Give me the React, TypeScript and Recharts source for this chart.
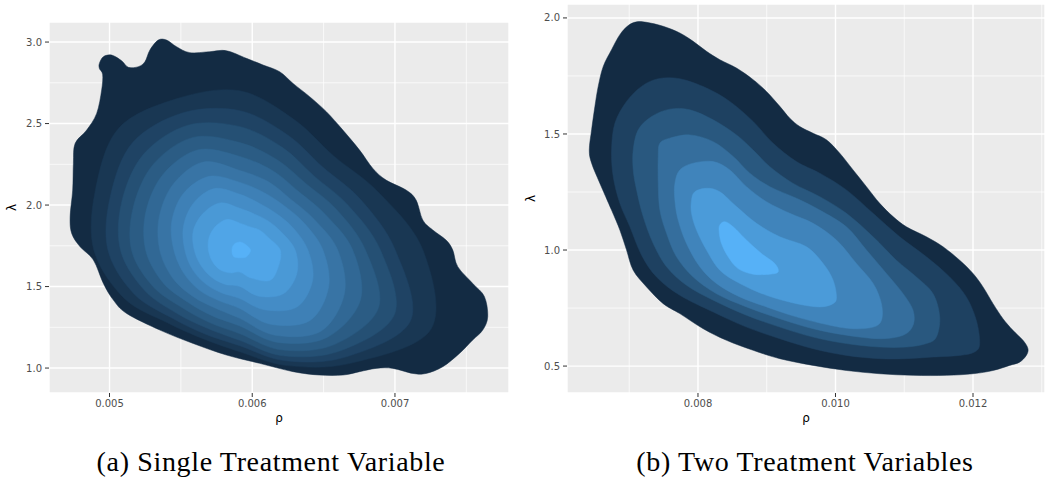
import React from 'react';
import { ScatterChart, Scatter, XAxis, YAxis, CartesianGrid } from 'recharts';

type Pt = [number, number]; // [rho, lambda]

// ---------- (a) Single Treatment Variable : density contour levels (outer -> inner) ----------
const singleLevel0: Pt[] = [
  [4.929e-3, 2.869], [4.957e-3, 2.91], [5.015e-3, 2.92], [5.085e-3, 2.885], [5.132e-3, 2.845], [5.202e-3, 2.849],
  [5.248e-3, 2.879], [5.283e-3, 2.951], [5.341e-3, 3.012], [5.4e-3, 3.012], [5.47e-3, 2.971], [5.563e-3, 2.935],
  [5.703e-3, 2.941], [5.819e-3, 2.947], [5.959e-3, 2.9], [6.076e-3, 2.859], [6.192e-3, 2.818], [6.286e-3, 2.746],
  [6.402e-3, 2.665], [6.519e-3, 2.573], [6.635e-3, 2.46], [6.752e-3, 2.337], [6.845e-3, 2.225], [6.938e-3, 2.153],
  [7.078e-3, 2.092], [7.148e-3, 2.031], [7.195e-3, 1.908], [7.265e-3, 1.847], [7.358e-3, 1.785], [7.405e-3, 1.724],
  [7.44e-3, 1.622], [7.545e-3, 1.519], [7.627e-3, 1.438], [7.65e-3, 1.315], [7.615e-3, 1.233], [7.545e-3, 1.172],
  [7.452e-3, 1.09], [7.335e-3, 1.008], [7.218e-3, 0.967], [7.125e-3, 0.967], [6.985e-3, 0.998], [6.868e-3, 0.998],
  [6.752e-3, 0.978], [6.635e-3, 0.957], [6.472e-3, 0.957], [6.286e-3, 0.978], [6.052e-3, 1.029], [5.819e-3, 1.08],
  [5.586e-3, 1.151], [5.353e-3, 1.233], [5.12e-3, 1.335], [5.027e-3, 1.417], [4.957e-3, 1.519], [4.887e-3, 1.663],
  [4.794e-3, 1.744], [4.735e-3, 1.826], [4.724e-3, 1.928], [4.742e-3, 2.092], [4.747e-3, 2.256], [4.759e-3, 2.378],
  [4.84e-3, 2.46], [4.91e-3, 2.562], [4.945e-3, 2.706], [4.952e-3, 2.8], [4.929e-3, 2.838],
];
const singleLevel1: Pt[] = [
  [7.196e-3, 1.724], [7.252e-3, 1.238], [6.702e-3, 1.032], [6.247e-3, 1.015], [5.913e-3, 1.1], [5.655e-3, 1.18],
  [5.405e-3, 1.278], [5.102e-3, 1.429], [4.89e-3, 1.724], [4.901e-3, 2.092], [5.063e-3, 2.47], [5.473e-3, 2.653],
  [5.913e-3, 2.701], [6.291e-3, 2.526], [6.571e-3, 2.301], [6.886e-3, 2.077],
];
const singleLevel2: Pt[] = [
  [7.002e-3, 1.724], [7.109e-3, 1.29], [6.659e-3, 1.069], [6.233e-3, 1.045], [5.913e-3, 1.137], [5.669e-3, 1.209],
  [5.438e-3, 1.307], [5.172e-3, 1.455], [4.989e-3, 1.724], [5.006e-3, 2.054], [5.162e-3, 2.383], [5.515e-3, 2.566],
  [5.913e-3, 2.579], [6.246e-3, 2.431], [6.494e-3, 2.233], [6.761e-3, 2.032],
];
const singleLevel3: Pt[] = [
  [6.898e-3, 1.724], [6.997e-3, 1.33], [6.617e-3, 1.106], [6.219e-3, 1.075], [5.913e-3, 1.17], [5.686e-3, 1.244],
  [5.471e-3, 1.336], [5.242e-3, 1.48], [5.077e-3, 1.724], [5.087e-3, 2.024], [5.241e-3, 2.314], [5.551e-3, 2.49],
  [5.913e-3, 2.481], [6.21e-3, 2.354], [6.432e-3, 2.179], [6.671e-3, 1.999],
];
const singleLevel4: Pt[] = [
  [6.793e-3, 1.724], [6.885e-3, 1.371], [6.574e-3, 1.144], [6.202e-3, 1.112], [5.913e-3, 1.211], [5.702e-3, 1.279],
  [5.51e-3, 1.37], [5.303e-3, 1.502], [5.154e-3, 1.724], [5.169e-3, 1.995], [5.31e-3, 2.253], [5.586e-3, 2.415],
  [5.913e-3, 2.383], [6.174e-3, 2.278], [6.377e-3, 2.131], [6.592e-3, 1.971],
];
const singleLevel5: Pt[] = [
  [6.704e-3, 1.724], [6.758e-3, 1.417], [6.524e-3, 1.188], [6.181e-3, 1.157], [5.913e-3, 1.258], [5.722e-3, 1.32],
  [5.549e-3, 1.404], [5.372e-3, 1.527], [5.253e-3, 1.724], [5.256e-3, 1.963], [5.379e-3, 2.192], [5.622e-3, 2.339],
  [5.913e-3, 2.298], [6.143e-3, 2.211], [6.323e-3, 2.084], [6.512e-3, 1.942],
];
const singleLevel6: Pt[] = [
  [6.599e-3, 1.724], [6.646e-3, 1.458], [6.481e-3, 1.226], [6.159e-3, 1.202], [5.913e-3, 1.305], [5.744e-3, 1.367],
  [5.587e-3, 1.438], [5.442e-3, 1.553], [5.352e-3, 1.724], [5.349e-3, 1.929], [5.449e-3, 2.131], [5.658e-3, 2.264],
  [5.913e-3, 2.212], [6.111e-3, 2.144], [6.269e-3, 2.036], [6.433e-3, 1.913],
];
const singleLevel7: Pt[] = [
  [6.495e-3, 1.724], [6.535e-3, 1.498], [6.405e-3, 1.292], [6.128e-3, 1.269], [5.913e-3, 1.366], [5.766e-3, 1.414],
  [5.631e-3, 1.477], [5.521e-3, 1.581], [5.451e-3, 1.724], [5.436e-3, 1.897], [5.518e-3, 2.071], [5.699e-3, 2.176],
  [5.913e-3, 2.139], [6.08e-3, 2.077], [6.223e-3, 1.996], [6.365e-3, 1.888],
];
const singleLevel8: Pt[] = [
  [6.39e-3, 1.724], [6.423e-3, 1.539], [6.312e-3, 1.374], [6.085e-3, 1.358], [5.913e-3, 1.427], [5.788e-3, 1.461],
  [5.676e-3, 1.515], [5.582e-3, 1.604], [5.528e-3, 1.724], [5.518e-3, 1.868], [5.587e-3, 2.01], [5.735e-3, 2.101],
  [5.913e-3, 2.066], [6.048e-3, 2.011], [6.168e-3, 1.948], [6.286e-3, 1.86],
];
const singleLevel9: Pt[] = [
  [6.301e-3, 1.724], [6.312e-3, 1.579], [6.218e-3, 1.456], [6.047e-3, 1.441], [5.913e-3, 1.501], [5.813e-3, 1.513],
  [5.72e-3, 1.554], [5.643e-3, 1.626], [5.594e-3, 1.724], [5.587e-3, 1.842], [5.656e-3, 1.949], [5.776e-3, 2.013],
  [5.913e-3, 1.98], [6.017e-3, 1.944], [6.114e-3, 1.901], [6.207e-3, 1.831],
];
const singleLevel10: Pt[] = [
  [6.196e-3, 1.724], [6.184e-3, 1.626], [6.125e-3, 1.538], [5.994e-3, 1.552], [5.913e-3, 1.589], [5.847e-3, 1.584],
  [5.775e-3, 1.603], [5.721e-3, 1.654], [5.693e-3, 1.724], [5.698e-3, 1.802], [5.745e-3, 1.871], [5.824e-3, 1.912],
  [5.913e-3, 1.889], [5.981e-3, 1.867], [6.052e-3, 1.846], [6.116e-3, 1.798],
];
const singleLevel11: Pt[] = [
  [5.988e-3, 1.724], [5.96e-3, 1.683], [5.913e-3, 1.677], [5.869e-3, 1.685], [5.858e-3, 1.724], [5.873e-3, 1.759],
  [5.913e-3, 1.773], [5.952e-3, 1.758],
];

// ---------- (b) Two Treatment Variables : density contour levels (outer -> inner) ----------
const twoLevel0: Pt[] = [
  [7.107e-3, 1.983], [7.252e-3, 1.981], [7.494e-3, 1.964], [7.736e-3, 1.935], [7.93e-3, 1.899], [8.124e-3, 1.856],
  [8.318e-3, 1.82], [8.56e-3, 1.784], [8.802e-3, 1.734], [8.996e-3, 1.683], [9.19e-3, 1.619], [9.335e-3, 1.568],
  [9.481e-3, 1.532], [9.674e-3, 1.503], [9.868e-3, 1.475], [10.062e-3, 1.417], [10.256e-3, 1.345], [10.45e-3, 1.273],
  [10.643e-3, 1.201], [10.837e-3, 1.144], [11.031e-3, 1.1], [11.322e-3, 1.057], [11.564e-3, 1.014], [11.806e-3, 0.956],
  [12.0e-3, 0.899], [12.145e-3, 0.841], [12.291e-3, 0.769], [12.436e-3, 0.704], [12.581e-3, 0.654], [12.727e-3, 0.611],
  [12.799e-3, 0.575], [12.775e-3, 0.546], [12.678e-3, 0.517], [12.533e-3, 0.503], [12.291e-3, 0.481], [12.0e-3, 0.467],
  [11.612e-3, 0.46], [11.128e-3, 0.46], [10.643e-3, 0.467], [10.159e-3, 0.481], [9.674e-3, 0.503], [9.19e-3, 0.532],
  [8.802e-3, 0.568], [8.415e-3, 0.611], [8.076e-3, 0.661], [7.736e-3, 0.726], [7.494e-3, 0.769], [7.252e-3, 0.841],
  [7.058e-3, 0.913], [6.961e-3, 1.0], [6.864e-3, 1.086], [6.743e-3, 1.172], [6.574e-3, 1.287], [6.453e-3, 1.374],
  [6.419e-3, 1.431], [6.453e-3, 1.518], [6.501e-3, 1.619], [6.549e-3, 1.705], [6.622e-3, 1.791], [6.743e-3, 1.863],
  [6.864e-3, 1.928], [6.985e-3, 1.967],
];
const twoLevel1: Pt[] = [
  [7.179e-3, 1.705], [7.422e-3, 1.738], [7.736e-3, 1.738], [8.124e-3, 1.698], [8.463e-3, 1.64], [8.802e-3, 1.554],
  [9.093e-3, 1.46], [9.432e-3, 1.381], [9.771e-3, 1.331], [10.159e-3, 1.259], [10.547e-3, 1.158], [10.934e-3, 1.057],
  [11.322e-3, 0.971], [11.661e-3, 0.884], [11.903e-3, 0.798], [12.048e-3, 0.697], [12.097e-3, 0.597], [12.024e-3, 0.561],
  [11.806e-3, 0.546], [11.419e-3, 0.539], [11.031e-3, 0.532], [10.643e-3, 0.532], [10.159e-3, 0.546], [9.674e-3, 0.575],
  [9.19e-3, 0.618], [8.705e-3, 0.668], [8.221e-3, 0.733], [7.736e-3, 0.805], [7.397e-3, 0.884], [7.179e-3, 0.978],
  [7.01e-3, 1.1], [6.864e-3, 1.201], [6.767e-3, 1.316], [6.743e-3, 1.431], [6.792e-3, 1.547], [6.961e-3, 1.64],
];
const twoLevel2: Pt[] = [
  [7.058e-3, 1.431], [7.131e-3, 1.518], [7.325e-3, 1.575], [7.591e-3, 1.607], [7.882e-3, 1.604], [8.221e-3, 1.561],
  [8.56e-3, 1.496], [8.802e-3, 1.431], [9.045e-3, 1.359], [9.384e-3, 1.287], [9.771e-3, 1.23], [10.159e-3, 1.158],
  [10.547e-3, 1.057], [10.886e-3, 0.956], [11.176e-3, 0.884], [11.419e-3, 0.812], [11.516e-3, 0.712], [11.467e-3, 0.625],
  [11.322e-3, 0.597], [11.031e-3, 0.582], [10.643e-3, 0.582], [10.159e-3, 0.597], [9.674e-3, 0.625], [9.19e-3, 0.668],
  [8.705e-3, 0.719], [8.221e-3, 0.784], [7.833e-3, 0.848], [7.543e-3, 0.928], [7.349e-3, 1.028], [7.203e-3, 1.144],
  [7.107e-3, 1.259], [7.058e-3, 1.345],
];
const twoLevel3: Pt[] = [
  [7.422e-3, 1.403], [7.446e-3, 1.46], [7.591e-3, 1.482], [7.882e-3, 1.496], [8.221e-3, 1.467], [8.512e-3, 1.403],
  [8.754e-3, 1.331], [9.045e-3, 1.273], [9.432e-3, 1.223], [9.771e-3, 1.172], [10.159e-3, 1.1], [10.45e-3, 1.0],
  [10.74e-3, 0.899], [10.983e-3, 0.812], [11.128e-3, 0.74], [11.128e-3, 0.676], [10.983e-3, 0.633], [10.643e-3, 0.618],
  [10.159e-3, 0.633], [9.674e-3, 0.661], [9.19e-3, 0.704], [8.705e-3, 0.755], [8.269e-3, 0.812], [7.93e-3, 0.884],
  [7.688e-3, 0.971], [7.543e-3, 1.072], [7.446e-3, 1.172], [7.422e-3, 1.287],
];
const twoLevel4: Pt[] = [
  [7.664e-3, 1.287], [7.736e-3, 1.345], [7.93e-3, 1.374], [8.221e-3, 1.381], [8.463e-3, 1.345], [8.705e-3, 1.273],
  [8.996e-3, 1.208], [9.335e-3, 1.158], [9.674e-3, 1.115], [10.014e-3, 1.043], [10.304e-3, 0.942], [10.547e-3, 0.856],
  [10.668e-3, 0.769], [10.668e-3, 0.697], [10.547e-3, 0.668], [10.256e-3, 0.661], [9.917e-3, 0.676], [9.432e-3, 0.712],
  [8.996e-3, 0.755], [8.609e-3, 0.798], [8.269e-3, 0.856], [8.027e-3, 0.928], [7.833e-3, 1.028], [7.712e-3, 1.129],
  [7.664e-3, 1.215],
];
const twoLevel5: Pt[] = [
  [7.906e-3, 1.215], [7.954e-3, 1.251], [8.124e-3, 1.266], [8.318e-3, 1.251], [8.56e-3, 1.187], [8.851e-3, 1.115],
  [9.19e-3, 1.057], [9.578e-3, 1.014], [9.82e-3, 0.942], [9.965e-3, 0.87], [10.014e-3, 0.798], [9.965e-3, 0.769],
  [9.771e-3, 0.755], [9.432e-3, 0.769], [8.996e-3, 0.805], [8.609e-3, 0.856], [8.318e-3, 0.913], [8.124e-3, 1.0],
  [7.979e-3, 1.086], [7.906e-3, 1.158],
];
const twoLevel6: Pt[] = [
  [8.318e-3, 1.108], [8.391e-3, 1.122], [8.512e-3, 1.1], [8.705e-3, 1.043], [8.923e-3, 0.985], [9.117e-3, 0.942],
  [9.166e-3, 0.906], [9.045e-3, 0.896], [8.802e-3, 0.896], [8.584e-3, 0.92], [8.439e-3, 0.971], [8.342e-3, 1.028],
  [8.308e-3, 1.079],
];

const singleLevels: Pt[][] = [
  singleLevel0, singleLevel1, singleLevel2, singleLevel3, singleLevel4, singleLevel5,
  singleLevel6, singleLevel7, singleLevel8, singleLevel9, singleLevel10, singleLevel11,
];
const twoLevels: Pt[][] = [twoLevel0, twoLevel1, twoLevel2, twoLevel3, twoLevel4, twoLevel5, twoLevel6];

// ---------- axes ----------
const singleRhoTicks = [0.005, 0.006, 0.007];
const singleRhoMinor = [0.0055, 0.0065, 0.0075];
const singleLamTicks = [1.0, 1.5, 2.0, 2.5, 3.0];
const singleLamMinor = [1.25, 1.75, 2.25, 2.75];
const twoRhoTicks = [0.008, 0.01, 0.012];
const twoRhoMinor = [0.007, 0.009, 0.011, 0.013];
const twoLamTicks = [0.5, 1.0, 1.5, 2.0];
const twoLamMinor = [0.75, 1.25, 1.75];

const captions = ['(a) Single Treatment Variable', '(b) Two Treatment Variables'];

// ---------- style helpers ----------
const LOW = [19, 43, 67];
const HIGH = [86, 177, 247];
function levelColor(i: number, n: number): string {
  const t = n <= 1 ? 0 : i / (n - 1);
  const c = LOW.map((l, k) => Math.round(l + (HIGH[k] - l) * t));
  return `rgb(${c[0]},${c[1]},${c[2]})`;
}

// closed Catmull-Rom curve (passes through every contour vertex)
function closedCatmullRom(context: any) {
  let pts: number[][] = [];
  return {
    areaStart() {},
    areaEnd() {},
    lineStart() {
      pts = [];
    },
    point(x: number, y: number) {
      pts.push([+x, +y]);
    },
    lineEnd() {
      const n = pts.length;
      if (!n) return;
      context.moveTo(pts[0][0], pts[0][1]);
      for (let i = 0; i < n; i++) {
        const p0 = pts[(i - 1 + n) % n];
        const p1 = pts[i];
        const p2 = pts[(i + 1) % n];
        const p3 = pts[(i + 2) % n];
        context.bezierCurveTo(
          p1[0] + (p2[0] - p0[0]) / 6,
          p1[1] + (p2[1] - p0[1]) / 6,
          p2[0] - (p3[0] - p1[0]) / 6,
          p2[1] - (p3[1] - p1[1]) / 6,
          p2[0],
          p2[1]
        );
      }
      context.closePath();
    },
  };
}

const noShape = () => <g />;
const TICK_FONT = { fontFamily: 'DejaVu Sans', fontSize: 10, fill: '#4D4D4D' };
const TITLE_FONT = 'DejaVu Sans';

const yTitle = (dx: number) => (props: any) => {
  const vb = props.viewBox || { x: 0, y: 0, width: 0, height: 0 };
  const cx = vb.x + dx;
  const cy = vb.y + vb.height / 2;
  return (
    <text x={cx} y={cy} transform={`rotate(-90 ${cx} ${cy})`} textAnchor="middle" dominantBaseline="central"
      fontFamily={TITLE_FONT} fontSize={12} fill="#000">λ</text>
  );
};
const xTitle = (dy: number) => (props: any) => {
  const vb = props.viewBox || { x: 0, y: 0, width: 0, height: 0 };
  return (
    <text x={vb.x + vb.width / 2} y={vb.y + dy} textAnchor="middle" dominantBaseline="central"
      fontFamily={TITLE_FONT} fontSize={12} fill="#000">ρ</text>
  );
};

type PanelProps = {
  left: number;
  width: number;
  margin: { top: number; right: number; bottom: number; left: number };
  yAxisWidth: number;
  xDomain: [number, number];
  yDomain: [number, number];
  xTicks: number[];
  xMinor: number[];
  yTicks: number[];
  yMinor: number[];
  levels: Pt[][];
  yTitleDx: number;
};

function Panel(p: PanelProps) {
  const n = p.levels.length;
  return (
    <div style={{ position: 'absolute', left: p.left, top: 0 }}>
      <ScatterChart width={p.width} height={430} margin={p.margin}>
        <CartesianGrid fill="#EBEBEB" stroke="#FFFFFF" strokeWidth={0.7}
          horizontalValues={p.yMinor} verticalValues={p.xMinor} />
        <CartesianGrid stroke="#FFFFFF" strokeWidth={1.4} />
        <XAxis type="number" dataKey="x" domain={p.xDomain} allowDataOverflow ticks={p.xTicks}
          tickFormatter={(v: number) => v.toFixed(3)} axisLine={false}
          tickLine={{ stroke: '#333333', strokeWidth: 1 }} tickSize={4} tickMargin={3} height={30}
          tick={TICK_FONT} interval={0} label={xTitle(25)} />
        <YAxis type="number" dataKey="y" domain={p.yDomain} allowDataOverflow ticks={p.yTicks}
          tickFormatter={(v: number) => v.toFixed(1)} axisLine={false}
          tickLine={{ stroke: '#333333', strokeWidth: 1 }} tickSize={4} tickMargin={3} width={p.yAxisWidth}
          tick={TICK_FONT} interval={0} label={yTitle(p.yTitleDx)} />
        {p.levels.map((lvl, i) => {
          const color = levelColor(i, n);
          return (
            <Scatter
              key={i}
              data={lvl.map(([x, y]) => ({ x, y }))}
              fill={color}
              line={{ fill: color, stroke: color, strokeWidth: 0.5 }}
              lineType="joint"
              lineJointType={closedCatmullRom as any}
              shape={noShape}
              legendType="none"
              isAnimationActive={false}
            />
          );
        })}
      </ScatterChart>
    </div>
  );
}

export default function App() {
  return (
    <div style={{ position: 'absolute', left: 0, top: 0, width: 1049, height: 480, background: '#FFFFFF', overflow: 'hidden' }}>
      <Panel
        left={0}
        width={515}
        margin={{ top: 22, right: 6, bottom: 7, left: 0 }}
        yAxisWidth={49}
        xDomain={[0.004576, 0.007799]}
        yDomain={[0.847, 3.123]}
        xTicks={singleRhoTicks}
        xMinor={singleRhoMinor}
        yTicks={singleLamTicks}
        yMinor={singleLamMinor}
        levels={singleLevels}
        yTitleDx={12}
      />
      <Panel
        left={515}
        width={534}
        margin={{ top: 4, right: 4, bottom: 7, left: 0 }}
        yAxisWidth={52}
        xDomain={[0.006095, 0.013047]}
        yDomain={[0.384, 2.06]}
        xTicks={twoRhoTicks}
        xMinor={twoRhoMinor}
        yTicks={twoLamTicks}
        yMinor={twoLamMinor}
        levels={twoLevels}
        yTitleDx={16}
      />
      <svg width={1049} height={60} style={{ position: 'absolute', left: 0, top: 420 }}>
        <text x={271} y={51} textAnchor="middle" fontFamily="Liberation Serif" fontSize={28} letterSpacing={0.65} fill="#000">{captions[0]}</text>
        <text x={805} y={51} textAnchor="middle" fontFamily="Liberation Serif" fontSize={28} letterSpacing={0.65} fill="#000">{captions[1]}</text>
      </svg>
    </div>
  );
}
